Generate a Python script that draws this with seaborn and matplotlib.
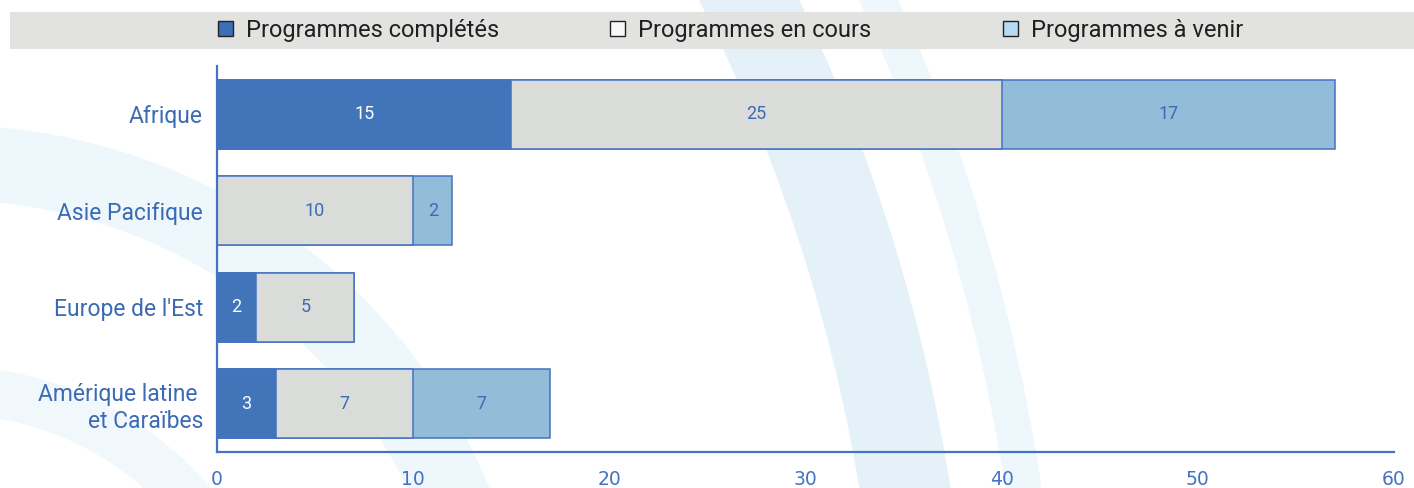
import numpy as np
import matplotlib
matplotlib.use("Agg")
import matplotlib.pyplot as plt
from matplotlib.patches import Patch, Wedge, Rectangle
import pandas as pd
import seaborn as sb

# Data
regions = ["Afrique", "Asie Pacifique", "Europe de l'Est", "Amérique latine \net Caraïbes"]
completes = [15, 0, 2, 3]
en_cours = [25, 10, 5, 7]
a_venir = [17, 2, 0, 7]
series_names = ["Programmes complétés", "Programmes en cours", "Programmes à venir"]
x_ticks = [0, 10, 20, 30, 40, 50, 60]

# Colours
blue = "#4472c4"
text_blue = "#3b6bb3"
bar_colors = ["#4274b9", "#dadcd9", "#92bcd8"]
legend_colors = ["#3d6fb6", "#f7f7f7", "#b7dbf1"]

sb.set_style("white")
plt.rcParams["font.family"] = ["Roboto", "DejaVu Sans"]

df = pd.DataFrame({"region": regions, "completes": completes,
                   "en_cours": en_cours, "a_venir": a_venir})
df["cum1"] = df["completes"]
df["cum2"] = df["cum1"] + df["en_cours"]
df["cum3"] = df["cum2"] + df["a_venir"]

W, H = 1414, 488
fig = plt.figure(figsize=(W / 100, H / 100), dpi=100)

# Decorative background: pale arcs and the grey legend band
bg = fig.add_axes([0, 0, 1, 1], zorder=0)
bg.set_xlim(0, W)
bg.set_ylim(H, 0)
bg.axis("off")
bg.add_patch(Wedge((-53, 712), 587, 0, 360, width=75, color="#eef7fc", lw=0))
bg.add_patch(Wedge((-53, 712), 346, 0, 360, width=48, color="#f1f8fc", lw=0))
bg.add_patch(Wedge((-800, 763), 1772, 0, 360, width=90, color="#e4f1f8", lw=0))
bg.add_patch(Wedge((-800, 763), 1862, 0, 360, width=36, color="#edf7fc", lw=0))
bg.add_patch(Rectangle((10, 12), W - 10, 37, color="#e2e2e1", lw=0))

# Main chart
ax = fig.add_axes([217 / W, (H - 452) / H, 1177 / W, 386 / H], zorder=1)
ax.patch.set_alpha(0)

# Stacked bars drawn as overlapping cumulative totals
for col, color in zip(["cum3", "cum2", "cum1"], bar_colors[::-1]):
    sb.barplot(data=df, x=col, y="region", color=color, edgecolor=blue,
               linewidth=1.1, width=0.71, saturation=1, orient="h", ax=ax)

# Segment labels
for i in range(len(regions)):
    start = 0
    for j, v in enumerate([completes[i], en_cours[i], a_venir[i]]):
        if v > 0:
            ax.text(start + v / 2, i, str(v), ha="center", va="center",
                    fontsize=13, color="white" if j == 0 else text_blue)
        start += v

ax.set_xlim(0, 60)
ax.set_ylim(3.5, -0.5)
ax.set_xticks(x_ticks)
ax.set_xlabel("")
ax.set_ylabel("")
sb.despine(ax=ax)
for s in ["left", "bottom"]:
    ax.spines[s].set_color(blue)
    ax.spines[s].set_linewidth(1.6)
ax.tick_params(axis="x", direction="in", length=6, width=1.6, color=blue,
               labelcolor=blue, labelsize=13.5, pad=13)
ax.tick_params(axis="y", length=0, labelcolor=text_blue, labelsize=16.5, pad=10)
for lab in ax.get_xticklabels():
    lab.set_fontfamily("DejaVu Sans")

# Legend entries placed in the grey band
legend_x = [218, 610, 1003]
for name, color, x in zip(series_names, legend_colors, legend_x):
    h = Patch(facecolor=color, edgecolor="#222222", linewidth=1)
    fig.legend([h], [name], loc="center left", bbox_to_anchor=(x / W, 1 - 30.5 / H),
               frameon=False, fontsize=17, handlelength=0.62, handleheight=0.62,
               handletextpad=0.55, borderpad=0, borderaxespad=0, labelcolor="#231f20")

plt.savefig("out.png", dpi=100)
